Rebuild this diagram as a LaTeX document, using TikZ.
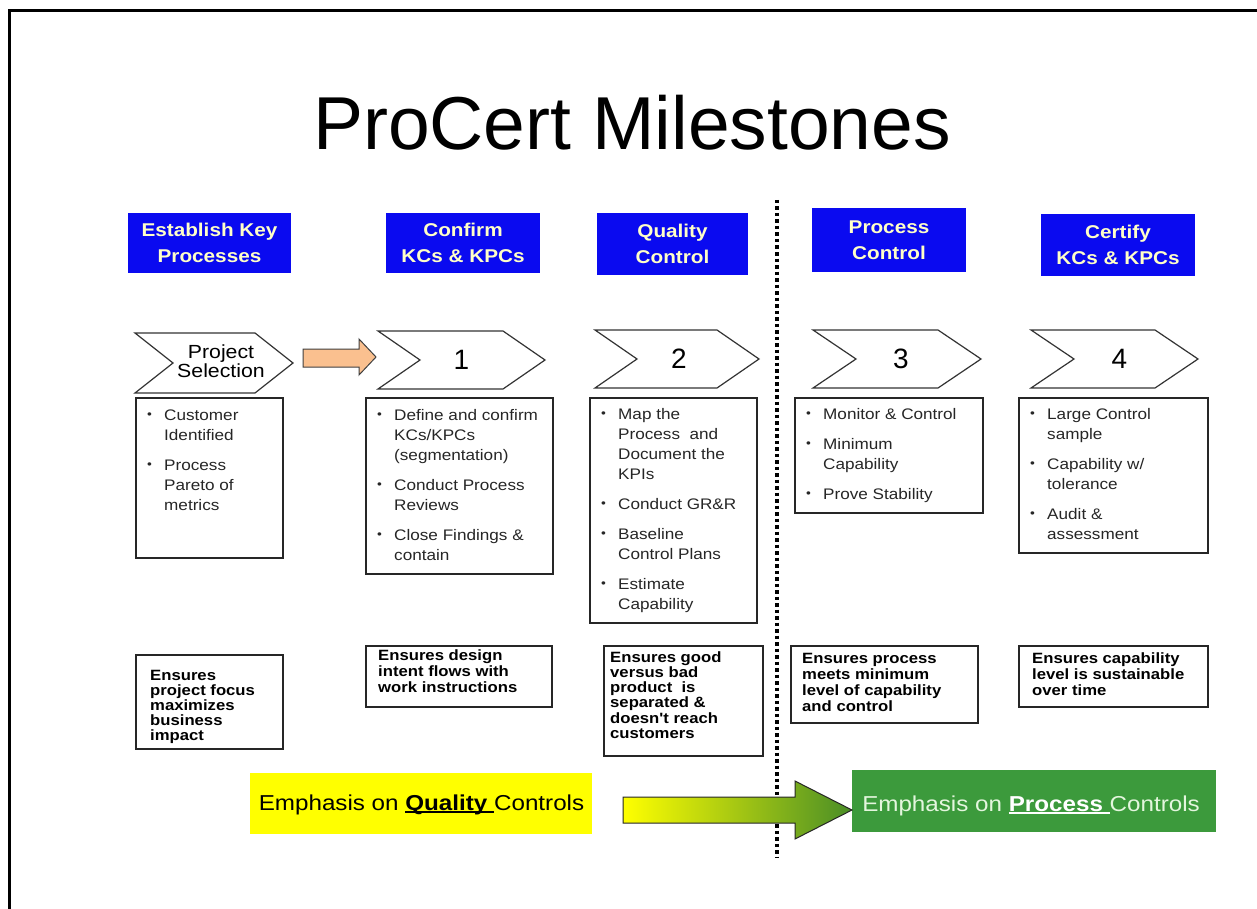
\documentclass[tikz,border=0pt]{standalone}
\usepackage{fontspec}
\setmainfont{Liberation Sans}
\newfontfamily\wide{Liberation Sans}[FakeStretch=1.12]
\usetikzlibrary{calc}

\definecolor{hdrblue}{HTML}{0A0AF0}
\definecolor{hdrtext}{HTML}{FFFFC8}
\definecolor{peach}{HTML}{FAC08F}
\definecolor{qyellow}{HTML}{FFFF00}
\definecolor{pgreen}{HTML}{3C9A3C}
\definecolor{agreen}{HTML}{4A8E26}
\definecolor{ptext}{HTML}{E4F6DE}

% thick underline that follows the width of its argument
\newsavebox\ulbox
\newcommand\myul[1]{\sbox\ulbox{#1}\rlap{\rule[-2.6pt]{\wd\ulbox}{1.8pt}}\usebox\ulbox}
\newcommand\bul{\makebox[17pt][l]{\raisebox{1.2pt}{\scalebox{0.8}{\textbullet}}}}

% chevron: name, x0, x1, ytop, ybot, depth
\newcommand\chev[6]{%
  \draw[chevst] (#2,#4) -- ({#3-#6},#4) -- (#3,{(#4+#5)/2}) -- ({#3-#6},#5)
    -- (#2,#5) -- ({#2+#6},{(#4+#5)/2}) -- cycle;
  \coordinate (#1) at ({(#2+#3)/2},{(#4+#5)/2});}

\begin{document}
\begin{tikzpicture}[x=1pt,y=-1pt,
  hdr/.style={fill=hdrblue, text=hdrtext, inner sep=0pt, align=center,
    font=\wide\bfseries\fontsize{18.5}{26}\selectfont},
  chevst/.style={draw=black!80, line width=1.2pt, fill=white, line join=miter},
  chevlbl/.style={font=\fontsize{28}{30}\selectfont, inner sep=0pt},
  listbox/.style={draw=black!85, line width=1.5pt, fill=white, anchor=north west, inner sep=0pt},
  listtxt/.style={anchor=base west, inner sep=0pt, text=black!85,
    font=\wide\fontsize{15.3}{20}\selectfont},
  notetxt/.style={anchor=base west, inner sep=0pt,
    font=\wide\bfseries\fontsize{14.9}{#1}\selectfont},
  dotline/.style={line width=3.5pt, dash pattern=on 3.5pt off 3pt},
  emph/.style={anchor=base, inner sep=0pt, font=\wide\fontsize{21.6}{24}\selectfont}]

\useasboundingbox (0,0) rectangle (1257,909);
\fill[white] (0,0) rectangle (1257,909);

% frame
\draw[line width=3pt, line join=miter] (9,909) -- (9,11) -- (1257,11);

% title
\node[anchor=base, inner sep=0pt, font=\fontsize{75}{80}\selectfont] (title) at (632,150) {ProCert Milestones};

% phase headers
\node[hdr, minimum width=163pt, minimum height=60pt] (hA) at (209.5,243) {Establish Key\\Processes};
\node[hdr, minimum width=154pt, minimum height=60pt] (hB) at (463,243) {Confirm\\KCs \& KPCs};
\node[hdr, minimum width=151pt, minimum height=61pt] (hC) at (672.5,244) {Quality\\Control};
\node[hdr, minimum width=154pt, minimum height=64pt] (hD) at (889,240) {Process\\Control};
\node[hdr, minimum width=154pt, minimum height=61pt] (hE) at (1118,245) {Certify\\KCs \& KPCs};

% divider between quality and process phases
\draw[dotline] (777,200) -- (777,857);

% chevrons
\chev{cS}{135}{293}{333}{393}{38}
\chev{c1}{378}{545}{331}{389}{42}
\chev{c2}{595}{759}{330}{388}{42}
\chev{c3}{813}{981}{330}{388}{43}
\chev{c4}{1031}{1198}{330}{388}{43}
\node[inner sep=0pt, align=center, font=\wide\fontsize{19}{13.5}\selectfont] (lS) at ($(cS)+(7,-2)$) {Project\\Selection};
\node[chevlbl] (l1) at (c1) {1};
\node[chevlbl] (l2) at ($(c2)+(2,0)$) {2};
\node[chevlbl] (l3) at ($(c3)+(4,0)$) {3};
\node[chevlbl] (l4) at ($(c4)+(5,0)$) {4};

% block arrow from project selection to step 1
\draw[fill=peach, draw=black!75, line width=1pt, line join=miter]
  (303,349) -- (359,349) -- (359,339) -- (376,357) -- (359,375) -- (359,367) -- (303,367) -- cycle;

% activity lists
\node[listbox, minimum width=147pt, minimum height=160pt] (bA) at (135,397) {};
\node[listbox, minimum width=187pt, minimum height=176pt] (bB) at (365,397) {};
\node[listbox, minimum width=167pt, minimum height=225pt] (bC) at (589,397) {};
\node[listbox, minimum width=188pt, minimum height=115pt] (bD) at (794,397) {};
\node[listbox, minimum width=189pt, minimum height=155pt] (bE) at (1018,397) {};

\node[listtxt] (tA) at (147,420) {\begin{tabular}[t]{@{}l@{}l@{}}
  \bul&Customer\\ &Identified\\[10pt]
  \bul&Process\\ &Pareto of\\ &metrics\end{tabular}};
\node[listtxt] (tB) at (377,420) {\begin{tabular}[t]{@{}l@{}l@{}}
  \bul&Define and confirm\\ &KCs/KPCs\\ &(segmentation)\\[10pt]
  \bul&Conduct Process\\ &Reviews\\[10pt]
  \bul&Close Findings \&\\ &contain\end{tabular}};
\node[listtxt] (tC) at (601,419) {\begin{tabular}[t]{@{}l@{}l@{}}
  \bul&Map the\\ &Process\ \ and\\ &Document the\\ &KPIs\\[10pt]
  \bul&Conduct GR\&R\\[10pt]
  \bul&Baseline\\ &Control Plans\\[10pt]
  \bul&Estimate\\ &Capability\end{tabular}};
\node[listtxt] (tD) at (806,419) {\begin{tabular}[t]{@{}l@{}l@{}}
  \bul&Monitor \& Control\\[10pt]
  \bul&Minimum\\ &Capability\\[10pt]
  \bul&Prove Stability\end{tabular}};
\node[listtxt] (tE) at (1030,419) {\begin{tabular}[t]{@{}l@{}l@{}}
  \bul&Large Control\\ &sample\\[10pt]
  \bul&Capability w/\\ &tolerance\\[10pt]
  \bul&Audit \&\\ &assessment\end{tabular}};

% outcome notes
\node[listbox, minimum width=147pt, minimum height=94pt] (nA) at (135,654) {};
\node[listbox, minimum width=186pt, minimum height=61pt] (nB) at (365,645) {};
\node[listbox, minimum width=159pt, minimum height=110pt] (nC) at (603,645) {};
\node[listbox, minimum width=187pt, minimum height=77pt] (nD) at (790,645) {};
\node[listbox, minimum width=189pt, minimum height=61pt] (nE) at (1018,645) {};

\node[notetxt=14.5] (mA) at (150,680) {\begin{tabular}[t]{@{}l@{}}
  Ensures\\ project focus\\ maximizes\\ business\\ impact\end{tabular}};
\node[notetxt=16] (mB) at (378,660) {\begin{tabular}[t]{@{}l@{}}
  Ensures design\\ intent flows with\\ work instructions\end{tabular}};
\node[notetxt=15] (mC) at (610,662) {\begin{tabular}[t]{@{}l@{}}
  Ensures good\\ versus bad\\ product\ \ is\\ separated \&\\ doesn't reach\\ customers\end{tabular}};
\node[notetxt=16.3] (mD) at (802,663) {\begin{tabular}[t]{@{}l@{}}
  Ensures process\\ meets minimum\\ level of capability\\ and control\end{tabular}};
\node[notetxt=16] (mE) at (1032,663) {\begin{tabular}[t]{@{}l@{}}
  Ensures capability\\ level is sustainable\\ over time\end{tabular}};

% emphasis banners
\node[fill=qyellow, minimum width=342pt, minimum height=61pt, inner sep=0pt] (qbox) at (421,803.5) {};
\node[emph] (qtxt) at (421.5,810) {Emphasis on \myul{\textbf{Quality}\ }Controls};
\node[fill=pgreen, minimum width=364pt, minimum height=62pt, inner sep=0pt] (pbox) at (1034,801) {};
\node[emph, text=ptext] (ptxt) at (1031,811) {Emphasis on {\color{white}\myul{\textbf{Process}\ }}Controls};

% transition arrow
\draw[left color=qyellow, right color=agreen, draw=black!85, line width=1pt, line join=miter]
  (623,797) -- (795,797) -- (795,781) -- (852,810) -- (795,839) -- (795,823) -- (623,823) -- cycle;

\end{tikzpicture}
\end{document}
